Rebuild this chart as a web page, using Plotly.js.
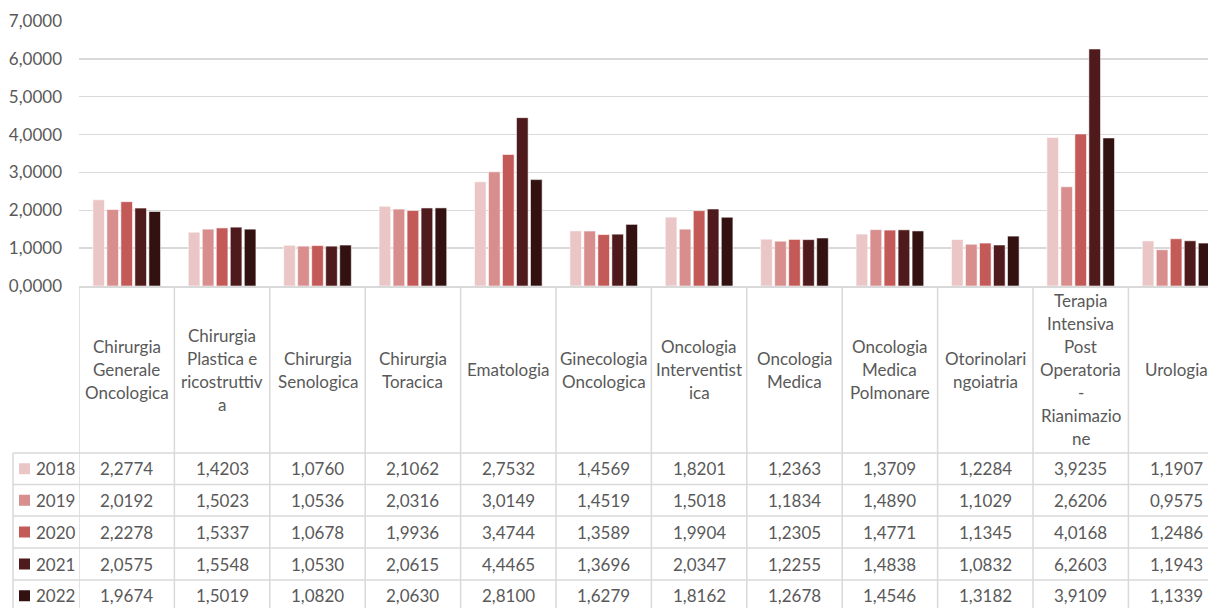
<!DOCTYPE html>
<html>
<head>
<meta charset="utf-8">
<script src="https://cdn.plot.ly/plotly-3.0.1.min.js"></script>
<style>html,body{margin:0;padding:0;background:#fff;}#chart{width:1208px;height:608px;}</style>
</head>
<body>
<div id="chart"></div>
<script>
// ---- DATA ----
var categories = ["Chirurgia Generale Oncologica", "Chirurgia Plastica e ricostruttiva", "Chirurgia Senologica", "Chirurgia Toracica", "Ematologia", "Ginecologia Oncologica", "Oncologia Interventistica", "Oncologia Medica", "Oncologia Medica Polmonare", "Otorinolaringoiatria", "Terapia Intensiva Post Operatoria - Rianimazione", "Urologia"];
var categoryLabelLines = [
  ["Chirurgia", "Generale", "Oncologica"],
  ["Chirurgia", "Plastica e", "ricostruttiv", "a"],
  ["Chirurgia", "Senologica"],
  ["Chirurgia", "Toracica"],
  ["Ematologia"],
  ["Ginecologia", "Oncologica"],
  ["Oncologia", "Interventist", "ica"],
  ["Oncologia", "Medica"],
  ["Oncologia", "Medica", "Polmonare"],
  ["Otorinolari", "ngoiatria"],
  ["Terapia", "Intensiva", "Post", "Operatoria", "-", "Rianimazio", "ne"],
  ["Urologia"]
];
var years = ["2018", "2019", "2020", "2021", "2022"];
var v2018 = [2.2774, 1.4203, 1.0760, 2.1062, 2.7532, 1.4569, 1.8201, 1.2363, 1.3709, 1.2284, 3.9235, 1.1907];
var v2019 = [2.0192, 1.5023, 1.0536, 2.0316, 3.0149, 1.4519, 1.5018, 1.1834, 1.4890, 1.1029, 2.6206, 0.9575];
var v2020 = [2.2278, 1.5337, 1.0678, 1.9936, 3.4744, 1.3589, 1.9904, 1.2305, 1.4771, 1.1345, 4.0168, 1.2486];
var v2021 = [2.0575, 1.5548, 1.0530, 2.0615, 4.4465, 1.3696, 2.0347, 1.2255, 1.4838, 1.0832, 6.2603, 1.1943];
var v2022 = [1.9674, 1.5019, 1.0820, 2.0630, 2.8100, 1.6279, 1.8162, 1.2678, 1.4546, 1.3182, 3.9109, 1.1339];
var yTickVals = [0, 1, 2, 3, 4, 5, 6, 7];
var colors = ["#EBC6C6", "#D78E8C", "#C45A58", "#4E1A1B", "#331111"];

// ---- LAYOUT HELPERS ----
var W = 1208, H = 608;
var plotLeft = 79, colW = 95.4;
var axisY = 286, topY = 21;
var rowTops = [453, 484.5, 516, 548, 580, 611.5];
var tableLeft = 13;
var gridCol = "#D9D9D9";
var textCol = "#595959";
var FONT = "Lato, 'Open Sans', sans-serif";
var FS = 17;
function px2x(px) { return px / W; }
function py2y(py) { return 1 - py / H; }

var series = [v2018, v2019, v2020, v2021, v2022];
var xIdx = categories.map(function (c, i) { return i; });

var traces = series.map(function (vals, k) {
  return {
    type: "bar",
    name: years[k],
    x: xIdx,
    y: vals,
    marker: { color: colors[k], line: { color: "rgba(255,255,255,0.7)", width: 0.8 } },
    hoverinfo: "x+y"
  };
});

var shapes = [];
var annotations = [];

// vertical table lines at category boundaries
for (var i = 0; i < categories.length; i++) {
  shapes.push({ type: "line", xref: "x", yref: "paper", x0: i - 0.5, x1: i - 0.5,
    y0: py2y(axisY), y1: py2y(H + 5), line: { color: gridCol, width: 1.5 }, layer: "above" });
}
// left border of legend column
shapes.push({ type: "line", xref: "paper", yref: "paper", x0: px2x(tableLeft), x1: px2x(tableLeft),
  y0: py2y(rowTops[0]), y1: py2y(H + 5), line: { color: gridCol, width: 1.5 } });
// horizontal row lines
for (var r = 0; r < 5; r++) {
  shapes.push({ type: "line", xref: "paper", yref: "paper", x0: px2x(tableLeft), x1: 1,
    y0: py2y(rowTops[r]), y1: py2y(rowTops[r]), line: { color: gridCol, width: 1.5 } });
}

// header labels (each wrapped line)
var headerCenter = (axisY + rowTops[0]) / 2;
var lineH = 23;
categoryLabelLines.forEach(function (lines, i) {
  var n = lines.length;
  lines.forEach(function (ln, j) {
    var cy = headerCenter + (j - (n - 1) / 2) * lineH;
    annotations.push({ xref: "x", yref: "paper", x: i, y: py2y(cy), text: ln, showarrow: false,
      xanchor: "center", yanchor: "middle", font: { family: FONT, size: FS, color: textCol } });
  });
});

// table rows
function fmt(v) { return v.toFixed(4).replace(".", ","); }
series.forEach(function (vals, k) {
  var cy = (rowTops[k] + rowTops[k + 1]) / 2;
  // legend key
  shapes.push({ type: "rect", xref: "paper", yref: "paper", x0: px2x(19), x1: px2x(30),
    y0: py2y(cy - 5.5), y1: py2y(cy + 5.5), fillcolor: colors[k], line: { width: 0 } });
  annotations.push({ xref: "paper", yref: "paper", x: px2x(34), y: py2y(cy), text: years[k], showarrow: false,
    xanchor: "left", yanchor: "middle", font: { family: FONT, size: FS, color: textCol } });
  vals.forEach(function (v, i) {
    annotations.push({ xref: "x", yref: "paper", x: i, y: py2y(cy), text: fmt(v), showarrow: false,
      xanchor: "center", yanchor: "middle", font: { family: FONT, size: FS, color: textCol } });
  });
});

var layout = {
  width: W, height: H,
  margin: { l: 0, r: 0, t: 0, b: 0 },
  paper_bgcolor: "#fff", plot_bgcolor: "#fff",
  separators: ",.",
  showlegend: false,
  barmode: "group",
  bargap: 0.266,
  bargroupgap: 0.17,
  font: { family: FONT, color: textCol },
  xaxis: {
    type: "linear",
    domain: [px2x(plotLeft), 1],
    range: [-0.5, -0.5 + (W - plotLeft) / colW],
    showticklabels: false, showgrid: false, zeroline: false,
    showline: true, linecolor: gridCol, linewidth: 1.5, ticks: ""
  },
  yaxis: {
    domain: [py2y(axisY), py2y(topY)],
    range: [0, 7],
    tickvals: yTickVals,
    tickformat: ".4f",
    showgrid: true, gridcolor: gridCol, gridwidth: 1.5,
    zeroline: false, showline: false, ticks: "",
    ticklabelstandoff: 16,
    tickfont: { family: FONT, size: FS, color: textCol }
  },
  shapes: shapes,
  annotations: annotations
};

Plotly.newPlot("chart", traces, layout, { displayModeBar: false, staticPlot: true });
</script>
</body>
</html>
